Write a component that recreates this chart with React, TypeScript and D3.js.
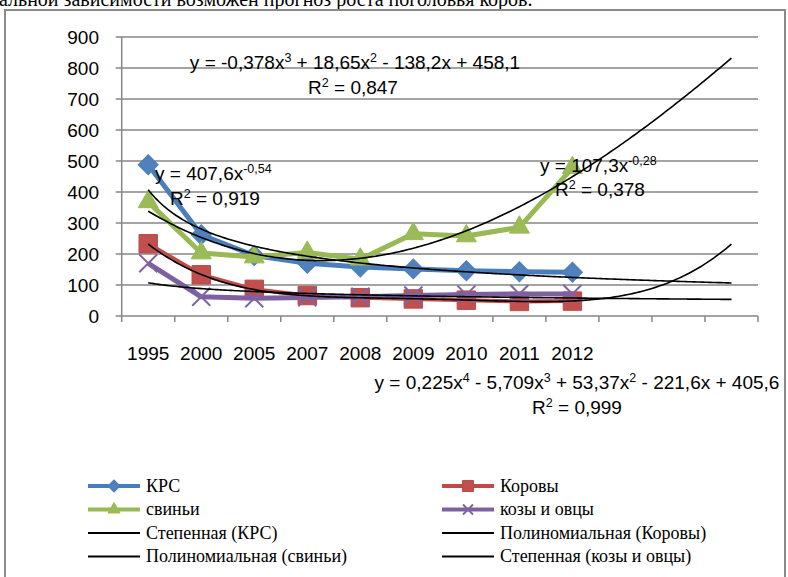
import * as d3 from 'd3'

// categories (last 3 slots are the forecast period of the trend lines)
const years = ['1995', '2000', '2005', '2007', '2008', '2009', '2010', '2011', '2012']
const forecastSlots = 3

// series values
const krs = [488, 262, 195, 170, 158, 152, 146, 143, 141]
const cows = [233, 133, 86, 66, 59, 55, 51, 47, 48]
const pigs = [368, 203, 190, 205, 183, 265, 258, 286, 478]
const goats = [170, 62, 57, 60, 62, 66, 69, 71, 71]

const yTicks = [0, 100, 200, 300, 400, 500, 600, 700, 800, 900]

// trend line coefficients as printed on the chart
const krsPower = [407.6, -0.54]
const goatsPower = [107.3, -0.28]
const pigsPoly = [458.1, -138.2, 18.65, -0.378] // c0 + c1 x + c2 x^2 + c3 x^3
const cowsPoly = [405.6, -221.6, 53.37, -5.709, 0.225]

const series = [
  { name: 'КРС', values: krs, line: '#4A7EBB', fill: '#4F81BD', marker: 'diamond', width: 5 },
  { name: 'Коровы', values: cows, line: '#BE4B48', fill: '#C0504D', marker: 'square', width: 4 },
  { name: 'свиньи', values: pigs, line: '#98B954', fill: '#9BBB59', marker: 'triangle', width: 5 },
  { name: 'козы и овцы', values: goats, line: '#7D60A0', fill: '#8064A2', marker: 'x', width: 5 },
]

const trendNames = [
  'Степенная (КРС)',
  'Полиномиальная (Коровы)',
  'Полиномиальная (свиньи)',
  'Степенная (козы и овцы)',
]

const power = (c: number[]) => (x: number) => c[0] * Math.pow(x, c[1])
const poly = (c: number[]) => (x: number) => c.reduce((s, k, i) => s + k * Math.pow(x, i), 0)

const trends = [power(krsPower), poly(cowsPoly), poly(pigsPoly), power(goatsPower)]

const W = 788
const H = 577
const plot = { left: 121.7, right: 758, top: 37, bottom: 316 }
const grid = '#868686'
const sans = '"Liberation Sans", Arial, sans-serif'
const serif = '"Liberation Serif", "Times New Roman", serif'

function Marker({ type, x, y, s, color, stroke }: { type: string; x: number; y: number; s: number; color: string; stroke: string }) {
  if (type === 'x') {
    const h = s / 2
    return (
      <path
        d={`M${x - h},${y - h}L${x + h},${y + h}M${x - h},${y + h}L${x + h},${y - h}`}
        stroke={color}
        strokeWidth={2}
        fill="none"
      />
    )
  }
  let p: string | null = null
  let rot = 0
  if (type === 'diamond') {
    p = d3.symbol(d3.symbolSquare, (s * s) / 2)()
    rot = 45
  } else if (type === 'square') {
    p = d3.symbol(d3.symbolSquare, s * s * 0.85)()
  } else {
    p = d3.symbol(d3.symbolTriangle, (Math.sqrt(3) / 4) * s * s)()
  }
  return <path d={p || ''} transform={`translate(${x},${y}) rotate(${rot})`} fill={color} stroke={stroke} strokeWidth={1} />
}

// equation label: pieces are [normal text, superscript]
function Eq({ x, y, parts, anchor = 'start' }: { x: number; y: number; parts: [string, string?][]; anchor?: string }) {
  const spans: { t: string; sup: boolean; dy: number }[] = []
  let raised = false
  parts.forEach(([t, sup]) => {
    spans.push({ t, sup: false, dy: raised ? 7 : 0 })
    raised = false
    if (sup) {
      spans.push({ t: sup, sup: true, dy: -7 })
      raised = true
    }
  })
  return (
    <text x={x} y={y} fontFamily={sans} fontSize={19} textAnchor={anchor} fill="#000">
      {spans.map((s, i) => (
        <tspan key={i} dy={s.dy || undefined} fontSize={s.sup ? 12.5 : undefined}>
          {s.t}
        </tspan>
      ))}
    </text>
  )
}

export default function App() {
  const n = years.length + forecastSlots
  const x = d3.scaleLinear().domain([0.5, n + 0.5]).range([plot.left, plot.right])
  const y = d3.scaleLinear().domain([0, 900]).range([plot.bottom, plot.top])

  const seriesLine = d3
    .line<number>()
    .x((_, i) => x(i + 1))
    .y((d) => y(d))

  const samples = d3.range(1, n + 0.001, 0.05)
  const trendLine = d3
    .line<number>()
    .x((d) => x(d))
    .curve(d3.curveMonotoneX)

  const boundaries = d3.range(0, n + 1).map((i) => i + 0.5)

  return (
    <svg width={W} height={H} style={{ position: 'absolute', left: 0, top: 0, background: '#fff' }}>
      <rect x={0} y={0} width={W} height={H} fill="#fff" />
      {/* text of the page above the chart, cut off */}
      <text x={-1} y={6} fontFamily={serif} fontSize={20} fill="#000">
        альной зависимости возможен прогноз роста поголовья коров.
      </text>
      <rect x={5} y={10} width={780} height={H} fill="#fff" stroke="#8a8a8a" strokeWidth={2} />

      {/* grid + y axis */}
      {yTicks.map((t) => (
        <g key={t}>
          <line x1={plot.left - 6} x2={plot.right} y1={y(t)} y2={y(t)} stroke={grid} strokeWidth={1.5} />
          <text x={99} y={y(t)} dy="0.36em" textAnchor="end" fontFamily={sans} fontSize={19} fill="#000">
            {t}
          </text>
        </g>
      ))}
      <line x1={plot.left} x2={plot.left} y1={plot.top} y2={plot.bottom} stroke={grid} strokeWidth={1.5} />
      {boundaries.map((b) => (
        <line key={b} x1={x(b)} x2={x(b)} y1={plot.bottom} y2={plot.bottom + 6} stroke={grid} strokeWidth={1.5} />
      ))}
      {years.map((yr, i) => (
        <text key={yr} x={x(i + 1)} y={360} textAnchor="middle" fontFamily={sans} fontSize={19} fill="#000">
          {yr}
        </text>
      ))}

      {/* series */}
      {series.map((s) => (
        <g key={s.name}>
          <path d={seriesLine(s.values) || ''} fill="none" stroke={s.line} strokeWidth={s.width} strokeLinejoin="round" />
          {s.values.map((v, i) => (
            <Marker key={i} type={s.marker} x={x(i + 1)} y={y(v)} s={s.marker === 'x' ? 18 : 20} color={s.fill} stroke={s.line} />
          ))}
        </g>
      ))}

      {/* trend lines */}
      {trends.map((f, i) => (
        <path key={i} d={trendLine.y((d) => y(f(d)))(samples) || ''} fill="none" stroke="#000" strokeWidth={1.6} />
      ))}

      {/* equations */}
      <Eq x={355} y={69} anchor="middle" parts={[['y = -0,378x', '3'], [' + 18,65x', '2'], [' - 138,2x + 458,1']]} />
      <Eq x={353} y={94} anchor="middle" parts={[['R', '2'], [' = 0,847']]} />
      <Eq x={155} y={180} parts={[['y = 407,6x', '-0,54']]} />
      <Eq x={170} y={205} parts={[['R', '2'], [' = 0,919']]} />
      <Eq x={540} y={172} parts={[['y = 107,3x', '-0,28']]} />
      <Eq x={555} y={196} parts={[['R', '2'], [' = 0,378']]} />
      <Eq x={577} y={389} anchor="middle" parts={[['y = 0,225x', '4'], [' - 5,709x', '3'], [' + 53,37x', '2'], [' - 221,6x + 405,6']]} />
      <Eq x={577} y={414} anchor="middle" parts={[['R', '2'], [' = 0,999']]} />

      {/* legend */}
      {series.map((s, i) => {
        const col = i % 2
        const row = Math.floor(i / 2)
        const lx = col === 0 ? 88 : 442
        const ly = 486 + row * 23.5
        return (
          <g key={s.name}>
            <line x1={lx} x2={lx + 52} y1={ly} y2={ly} stroke={s.line} strokeWidth={4} />
            <Marker type={s.marker} x={lx + 26} y={ly} s={s.marker === 'x' ? 10 : 12} color={s.fill} stroke={s.line} />
            <text x={lx + 58} y={ly} dy="0.33em" fontFamily={serif} fontSize={18} fill="#000">
              {s.name}
            </text>
          </g>
        )
      })}
      {trendNames.map((t, i) => {
        const col = i % 2
        const row = 2 + Math.floor(i / 2)
        const lx = col === 0 ? 88 : 442
        const ly = 486 + row * 23.5
        return (
          <g key={t}>
            <line x1={lx} x2={lx + 52} y1={ly} y2={ly} stroke="#000" strokeWidth={2} />
            <text x={lx + 58} y={ly} dy="0.33em" fontFamily={serif} fontSize={18} fill="#000">
              {t}
            </text>
          </g>
        )
      })}
    </svg>
  )
}
